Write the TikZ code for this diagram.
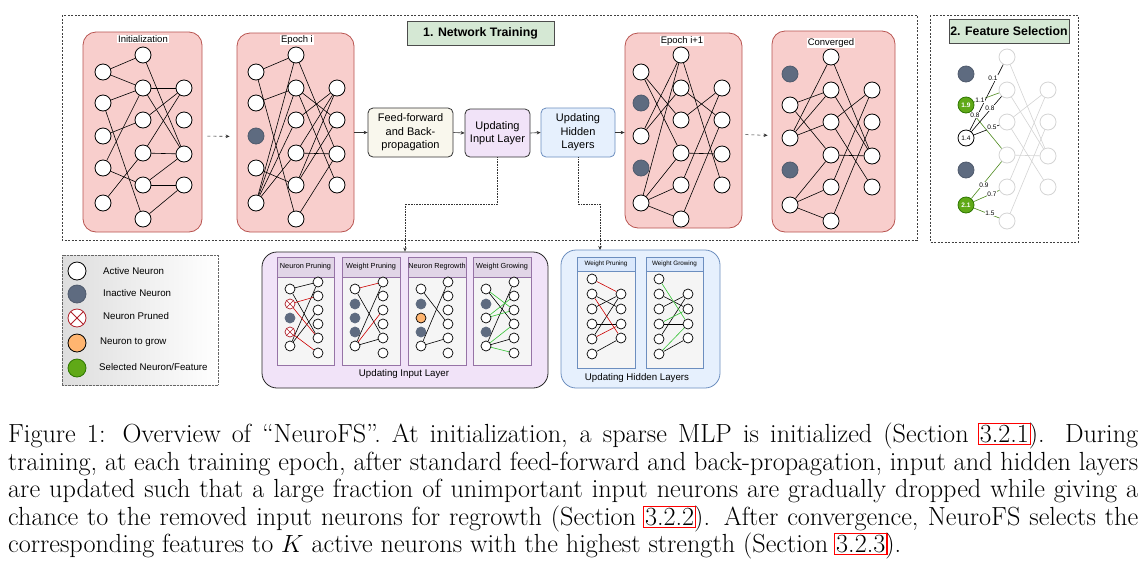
\documentclass[tikz,border=0pt]{standalone}
\usepackage{fontspec}
\newfontfamily\arialf{Liberation Sans}
\usetikzlibrary{arrows.meta}
\definecolor{pfill}{HTML}{F8CECC}
\definecolor{pdraw}{HTML}{B85450}
\definecolor{dn}{HTML}{5E6B80}
\definecolor{gn}{HTML}{60A917}
\definecolor{gnd}{HTML}{2D7600}
\definecolor{org}{HTML}{FFB570}
\definecolor{ffill}{HTML}{F9F7ED}
\definecolor{ufill}{HTML}{F1E3F8}
\definecolor{hfill}{HTML}{E6F0FD}
\definecolor{hdraw}{HTML}{6C8EBF}
\definecolor{ntfill}{HTML}{D5E8D4}
\definecolor{pbody}{HTML}{F5F5F5}
\definecolor{phead}{HTML}{E1D5E7}
\definecolor{pbord}{HTML}{9673A6}
\definecolor{bhead}{HTML}{DAE8FC}
\definecolor{fsg}{HTML}{D4D4D4}
\definecolor{olv}{HTML}{4E8A1E}
\definecolor{brg}{HTML}{33C233}
\definecolor{prd}{HTML}{B0202A}
\newcommand\nn[4]{\node[#1] (#2) at (#3,#4) {};}
\newcommand\leftcol[8]{\nn{#4}{#1l1}{#2}{72+#3}\nn{#5}{#1l2}{#2}{103+#3}\nn{#6}{#1l3}{#2}{136+#3}\nn{#7}{#1l4}{#2}{168+#3}\nn{#8}{#1l5}{#2}{203+#3}}
\newcommand\midcol[4]{\foreach \yy [count=\ii] in {55,88,120,153,185,219}{\node[#4] (#1m\ii) at (#2,\yy+#3) {};}}
\newcommand\rightcol[4]{\foreach \yy [count=\ii] in {88,120,154,185}{\node[#4] (#1r\ii) at (#2,\yy+#3) {};}}
\newcommand\edges[3]{\foreach \ea/\eb in {#3}{\draw[#2] (#1\ea) -- (#1\eb);}}
\newcommand\subleft[7]{\nn{#3}{#1l1}{#2}{289}\nn{#4}{#1l2}{#2}{304}\nn{#5}{#1l3}{#2}{318}\nn{#6}{#1l4}{#2}{332}\nn{#7}{#1l5}{#2}{346}}
\newcommand\subright[2]{\foreach \yy [count=\ii] in {282,296,310,324,338,353}{\node[sn] (#1r\ii) at (#2,\yy) {};}}
\newcommand\hleft[2]{\foreach \yy [count=\ii] in {279,294,309,324,339,354}{\node[sn] (#1l\ii) at (#2,\yy) {};}}
\newcommand\hright[2]{\foreach \yy [count=\ii] in {294,309,324,338}{\node[sn] (#1r\ii) at (#2,\yy) {};}}
\newcommand\rl[1]{\rlap{\hspace{-2pt}\textcolor{red}{\setlength\fboxsep{1pt}\setlength\fboxrule{1.1pt}\fbox{\phantom{#1}}}}#1}
\begin{document}
\begin{tikzpicture}[x=1pt,y=-1pt,
 neu/.style={circle,draw=black,fill=white,line width=0.8pt,minimum size=16pt,inner sep=0pt},
 dneu/.style={neu,draw=dn!85!black,fill=dn},
 gneu/.style={neu,draw=gnd,fill=gn},
 fsn/.style={neu,draw=fsg},
 sn/.style={circle,draw=black,fill=white,line width=0.7pt,minimum size=10pt,inner sep=0pt},
 sdn/.style={sn,draw=dn,fill=dn},
 sxn/.style={sn,draw=prd,path picture={\draw[prd,line width=0.6pt] (path picture bounding box.north west)--(path picture bounding box.south east) (path picture bounding box.north east)--(path picture bounding box.south west);}},
 son/.style={sn,fill=org},
 ed/.style={line width=0.6pt,black},
 edr/.style={line width=0.6pt,red!80!black},
 edg/.style={line width=0.6pt,brg},
 edf/.style={line width=0.6pt,fsg},
 edo/.style={line width=0.6pt,olv},
 panel/.style={draw=pdraw,fill=pfill,rounded corners=13pt,line width=0.8pt,inner sep=0pt},
 plab/.style={fill=white,inner sep=1pt,font=\arialf\fontsize{9.5}{11}\selectfont},
 fbox/.style={rounded corners=5pt,line width=0.8pt,align=center,inner sep=0pt,font=\arialf\fontsize{11}{13.5}\selectfont},
 arr/.style={-{Stealth[length=4pt,width=3.5pt]},line width=0.6pt,black!80},
 darr/.style={arr,dashed},
 dotarr/.style={-{Stealth[length=4pt,width=3.5pt]},densely dotted,line width=0.6pt,black!80},
 outer/.style={dash pattern=on 2pt off 1.5pt,line width=0.6pt,black!75},
 title/.style={draw=black!70,fill=ntfill,line width=0.8pt,inner sep=0pt,font=\arialf\bfseries\fontsize{12.3}{14}\selectfont},
 shead/.style={draw=pbord,fill=phead,line width=0.6pt,inner sep=0pt,font=\arialf\fontsize{7.3}{8}\selectfont},
 sbody/.style={draw=pbord,fill=pbody,line width=0.6pt,inner sep=0pt},
 hhead/.style={draw=hdraw,fill=bhead,line width=0.6pt,inner sep=0pt,font=\arialf\fontsize{6.3}{7}\selectfont},
 hbody/.style={draw=hdraw,fill=pbody,line width=0.6pt,inner sep=0pt},
 lgt/.style={anchor=west,inner sep=0pt,font=\arialf\fontsize{9.7}{11}\selectfont},
 wl/.style={fill=white,inner sep=0.3pt,font=\arialf\fontsize{6.5}{7}\selectfont},
]
\useasboundingbox (0,0) rectangle (1148,582);
\fill[white] (0,0) rectangle (1148,582);
% outer frames
\draw[outer] (62,15) rectangle (917,240);
\draw[outer] (930,15) rectangle (1078,242);
\node[title,minimum width=147pt,minimum height=24pt] (nt) at (480.5,33) {1. Network Training};
\node[title,minimum width=120pt,minimum height=24pt] (fst) at (1009,31) {2. Feature Selection};
% panels
\node[panel,minimum width=119pt,minimum height=200pt] (pa) at (142.5,132) {};
\node[panel,minimum width=117pt,minimum height=199pt] (pb) at (295.5,132.5) {};
\node[panel,minimum width=117pt,minimum height=195pt] (pc) at (683.5,130.5) {};
\node[panel,minimum width=123pt,minimum height=201pt] (pd) at (833.5,131.5) {};
% Initialization
\leftcol{a}{103}{0}{neu}{neu}{neu}{neu}{neu}
\midcol{a}{143}{0}{neu}
\rightcol{a}{184}{0}{neu}
\edges{a}{ed}{l1/m1,l1/m2,l2/m2,l2/m6,l3/m3,l4/m2,l4/m5,l5/m4,m1/r3,m2/r1,m2/r3,m3/r1,m4/r1,m4/r3,m5/r3,m5/r4,m6/r4}
% Epoch i
\leftcol{b}{256}{0}{neu}{neu}{dneu}{neu}{neu}
\midcol{b}{296}{0}{neu}
\rightcol{b}{337}{0}{neu}
\edges{b}{ed}{l1/m1,l1/m6,l2/m2,l4/m5,l5/m1,l5/m2,l5/m3,l5/m4,m1/r3,m2/r2,m2/r4,m3/r1,m4/r1,m4/r3,m5/r1,m5/r2,m6/r3}
% Epoch i+1
\leftcol{c}{641}{0}{neu}{dneu}{neu}{dneu}{neu}
\midcol{c}{681}{0}{neu}
\rightcol{c}{722}{0}{neu}
\edges{c}{ed}{l1/m3,l1/m4,l3/m1,l3/m2,l5/m1,l5/m4,l5/m5,l5/m6,m1/r4,m2/r2,m3/r1,m4/r3,m5/r1,m6/r2}
% Converged
\leftcol{d}{790}{2}{dneu}{neu}{neu}{dneu}{neu}
\midcol{d}{831}{2}{neu}
\rightcol{d}{872}{2}{neu}
\edges{d}{ed}{l2/m2,l2/m4,l3/m1,l3/m2,l3/m3,l5/m4,l5/m5,l5/m6,m1/r3,m2/r3,m3/r1,m3/r4,m4/r3,m5/r1,m6/r2}
% panel labels
\node[plab] (la) at (143,39) {Initialization};
\node[plab] (lb) at (297,40) {Epoch i};
\node[plab] (lc) at (682,41) {Epoch i+1};
\node[plab] (ld) at (831,43) {Converged};
% Feature selection
\midcol{f}{1007}{2}{fsn}
\rightcol{f}{1048}{2}{fsn}
\edges{f}{edf}{m1/r3,m2/r3,m3/r1,m3/r4,m4/r3,m5/r1,m6/r2}
\node[dneu] (fl1) at (966,74) {};
\node[gneu,text=white,font=\arialf\bfseries\fontsize{6.5}{7}\selectfont] (fl2) at (966,105) {1.9};
\node[neu,font=\arialf\fontsize{6.5}{7}\selectfont] (fl3) at (966,138) {1.4};
\node[dneu] (fl4) at (966,170) {};
\node[gneu,text=white,font=\arialf\bfseries\fontsize{6.5}{7}\selectfont] (fl5) at (966,205) {2.1};
\edges{f}{edo}{l2/m2,l2/m4,l5/m4,l5/m5,l5/m6}
\edges{f}{ed}{l3/m1,l3/m2,l3/m3}
\node[wl] (w1) at (993,78) {0.1};
\node[wl] (w2) at (980,100) {1.1};
\node[wl] (w3) at (990,108) {0.8};
\node[wl] (w4) at (975,115) {0.8};
\node[wl] (w5) at (992,127) {0.5};
\node[wl] (w6) at (984,185) {0.9};
\node[wl] (w7) at (992,194) {0.7};
\node[wl] (w8) at (990,213) {1.5};
% process boxes
\node[fbox,draw=black!80,fill=ffill,minimum width=85pt,minimum height=49pt] (ff) at (410.5,132.5) {Feed-forward\\and Back-\\propagation};
\node[fbox,draw=black!80,fill=ufill,minimum width=65pt,minimum height=48pt] (uil) at (497.5,133) {Updating\\Input Layer};
\node[fbox,draw=hdraw,fill=hfill,minimum width=74pt,minimum height=49pt] (uhl) at (578,132.5) {Updating\\Hidden\\Layers};
\draw[darr,shorten <=5pt,shorten >=7pt] ([yshift=-4pt]pa.east) -- ([yshift=-4pt]pb.west);
\draw[arr] (ff.west -| pb.east) -- (ff.west);
\draw[arr] (ff.east) -- (uil.west);
\draw[arr] (uil.east) -- (uhl.west);
\draw[arr] (uhl.east) -- (uhl.east -| pc.west);
\draw[darr,shorten <=3pt,shorten >=4pt] ([yshift=-4pt]pc.east) -- ([yshift=-4pt]pd.west);
% legend
\node[draw=black!60,densely dotted,left color=black!13,right color=white,minimum width=156pt,minimum height=130pt,inner sep=0pt] (leg) at (140,320) {};
\node[neu,minimum size=18pt] (g1) at (77,271) {};
\node[dneu,minimum size=18pt] (g2) at (77,294) {};
\node[neu,minimum size=18pt,draw=prd,path picture={\draw[prd,line width=0.8pt] (path picture bounding box.north west)--(path picture bounding box.south east) (path picture bounding box.north east)--(path picture bounding box.south west);}] (g3) at (77,318) {};
\node[neu,minimum size=18pt,fill=org] (g4) at (77,343) {};
\node[gneu,minimum size=18pt] (g5) at (77,368) {};
\node[lgt] (t1) at (103,271) {Active Neuron};
\node[lgt] (t2) at (103,293) {Inactive Neuron};
\node[lgt] (t3) at (103,316) {Neuron Pruned};
\node[lgt] (t4) at (100,342) {Neuron to grow};
\node[lgt] (t5) at (99,367) {Selected Neuron/Feature};
% updating input layer panel
\node[draw=black!85,fill=ufill,rounded corners=15pt,line width=0.8pt,minimum width=286pt,minimum height=136pt,inner sep=0pt] (bip) at (405,320) {};
\node[shead,minimum width=57pt,minimum height=20pt] (h1) at (305.5,267) {Neuron Pruning};
\node[sbody,minimum width=57pt,minimum height=88pt] (b1) at (305.5,321) {};
\node[shead,minimum width=58pt,minimum height=20pt] (h2) at (371,267) {Weight Pruning};
\node[sbody,minimum width=58pt,minimum height=88pt] (b2) at (371,321) {};
\node[shead,minimum width=58pt,minimum height=20pt] (h3) at (437,267) {Neuron Regrowth};
\node[sbody,minimum width=58pt,minimum height=88pt] (b3) at (437,321) {};
\node[shead,minimum width=58pt,minimum height=20pt] (h4) at (502,267) {Weight Growing};
\node[sbody,minimum width=58pt,minimum height=88pt] (b4) at (502,321) {};
\subleft{p}{290}{sn}{sxn}{sdn}{sxn}{sn}
\subright{p}{318}
\edges{p}{ed}{l1/r1,l1/r5,l5/r1,l5/r3}
\edges{p}{edr}{l2/r2,l2/r5,l4/r6}
\subleft{q}{355}{sn}{sdn}{sdn}{sdn}{sn}
\subright{q}{383}
\edges{q}{ed}{l1/r5,l5/r1,l5/r5}
\edges{q}{edr}{l1/r1,l5/r3}
\subleft{s}{421}{sn}{sdn}{son}{sdn}{sn}
\subright{s}{448}
\edges{s}{ed}{l1/r4,l5/r1,l5/r5}
\subleft{u}{486}{sn}{sdn}{sn}{sdn}{sn}
\subright{u}{514}
\edges{u}{ed}{l1/r4,l5/r1,l5/r5}
\edges{u}{edg}{l1/r3,l3/r2,l3/r3,l5/r4,l5/r6}
\node[font=\arialf\fontsize{9.7}{11}\selectfont,inner sep=0pt] (tbip) at (404,374) {Updating Input Layer};
% updating hidden layers panel
\node[draw=hdraw,fill=hfill,rounded corners=15pt,line width=0.8pt,minimum width=159pt,minimum height=138pt,inner sep=0pt] (bhp) at (640.5,319) {};
\node[hhead,minimum width=58pt,minimum height=14pt] (h5) at (606,264) {Weight Pruning};
\node[hbody,minimum width=58pt,minimum height=97pt] (b5) at (606,319.5) {};
\node[hhead,minimum width=57pt,minimum height=14pt] (h6) at (674.5,264) {Weight Growing};
\node[hbody,minimum width=57pt,minimum height=97pt] (b6) at (674.5,319.5) {};
\hleft{v}{592}
\hright{v}{621}
\edges{v}{ed}{l2/r2,l3/r1,l4/r3,l5/r1,l6/r4}
\edges{v}{edr}{l1/r1,l2/r4,l5/r3}
\hleft{w}{659}
\hright{w}{688}
\edges{w}{ed}{l2/r2,l3/r1,l4/r3,l5/r1,l6/r4}
\edges{w}{edg}{l1/r3,l4/r2,l6/r3}
\node[font=\arialf\fontsize{9.7}{11}\selectfont,inner sep=0pt] (tbhp) at (637,378) {Updating Hidden Layers};
% dotted connectors
\coordinate (hin) at (600,250);
\draw[dotarr] (uil.south) -- (uil.south |- 0,204) -| (bip.north);
\draw[dotarr] (uhl.south) -- (uhl.south |- 0,204) -| (hin);
% caption
\node[anchor=north west,text width=1130pt,align=justify,inner sep=0pt,font=\fontsize{26.2}{27.5}\selectfont] (cap) at (8,422.8) {Figure 1: Overview of ``NeuroFS''. At initialization, a sparse MLP is initialized (Section~\rl{3.2.1}).  During\linebreak training, at each training epoch, after standard feed-forward and back-propagation, input and hidden layers\linebreak are updated such that a large fraction of unimportant input neurons are gradually dropped while giving a\linebreak chance to the removed input neurons for regrowth (Section~\rl{3.2.2}). After convergence, NeuroFS selects the\linebreak corresponding features to $K$ active neurons with the highest strength (Section~\rl{3.2.3}).};
\end{tikzpicture}
\end{document}
